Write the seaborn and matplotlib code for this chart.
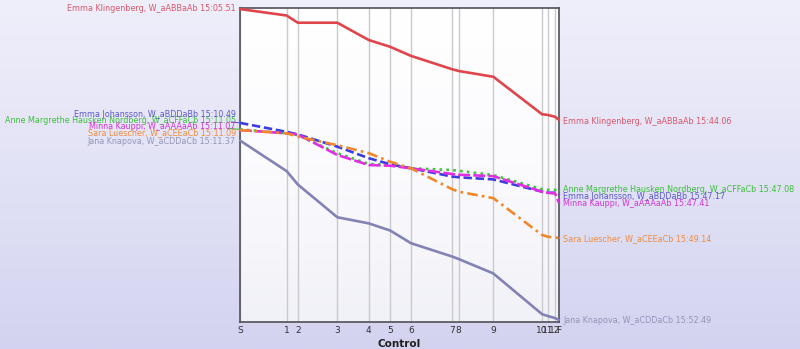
import numpy as np
import pandas as pd
import matplotlib
matplotlib.use("Agg")
import matplotlib.pyplot as plt
import seaborn as sns
from matplotlib.colors import LinearSegmentedColormap

# Course: reference elapsed time (s) at each control
controls = ["S", "1", "2", "3", "4", "5", "6", "7", "8", "9", "10", "11", "12", "F"]
control_time = [0, 294, 364, 613, 811, 947, 1077, 1336, 1378, 1596, 1903, 1938, 1985, 2010]

runners = [
    "Emma Klingenberg, W_aABBaAb",
    "Anne Margrethe Hausken Nordberg, W_aCFFaCb",
    "Emma Johansson, W_aBDDaBb",
    "Minna Kauppi, W_aAAAaAb",
    "Sara Luescher, W_aCEEaCb",
    "Jana Knapova, W_aCDDaCb",
]
start_clock = ["15:05.51", "15:11.05", "15:10.49", "15:11.07", "15:11.09", "15:11.37"]
finish_clock = ["15:44.06", "15:47.08", "15:47.17", "15:47.41", "15:49.14", "15:52.49"]

# Time behind (s) at each control
klingenberg = [2, 20, 40, 40, 88, 107, 132, 169, 174, 190, 294, 296, 301, 310]
nordberg = [336, 347, 352, 402, 432, 435, 444, 449, 451, 463, 502, 504, 504, 506]
johansson = [318, 343, 350, 384, 416, 433, 444, 467, 469, 475, 509, 512, 512, 516]
kauppi = [338, 347, 350, 407, 435, 437, 444, 460, 462, 466, 509, 512, 514, 540]
luescher = [338, 347, 356, 380, 402, 426, 444, 502, 509, 527, 629, 634, 636, 638]
knapova = [367, 452, 489, 580, 597, 617, 652, 689, 696, 736, 849, 854, 860, 865]
behind = [klingenberg, nordberg, johansson, kauppi, luescher, knapova]

line_colors = ["#e0454b", "#3cc43c", "#3c3ce0", "#e02ee0", "#f0872a", "#8282b4"]
text_colors = ["#d9566a", "#3cbf3c", "#5a5acc", "#d236d2", "#f08c3c", "#9494b8"]
dash_styles = ["", (1, 1.6), (3.2, 1.4), (4.5, 1.2), (4, 1.6, 1, 1.6), ""]

# label placement (s), spread apart so they do not overlap
left_label_y = [0, 312, 294, 329, 345, 370]
right_label_y = [313, 504, 523, 543, 640, 867]

rows = []
for name, vals in zip(runners, behind):
    for c, t, v in zip(controls, control_time, vals):
        rows.append({"runner": name, "control": c, "t": t, "behind": v})
df = pd.DataFrame(rows)

sns.set_theme(style="white")
plt.rcParams["font.family"] = ["DejaVu Sans"]

fig = plt.figure(figsize=(8, 3.49), dpi=100)

# lavender background gradient
bg = fig.add_axes([0, 0, 1, 1], zorder=-10)
grad = np.linspace(0, 1, 256).reshape(-1, 1)
bg_cmap = LinearSegmentedColormap.from_list("bg", ["#efeffb", "#e2e2f6", "#d3d3f0"])
bg.imshow(grad, aspect="auto", cmap=bg_cmap, extent=[0, 1, 0, 1], origin="upper")
bg.set_axis_off()

x_max, y_max = control_time[-1], 870
ax = fig.add_axes([0.3, 0.0782, 0.39875, 0.898])
ax.set_facecolor("white")
pa_cmap = LinearSegmentedColormap.from_list("pa", ["#ffffff", "#fbfbfe", "#f1f1f8"])
ax.imshow(grad, aspect="auto", cmap=pa_cmap, extent=[0, x_max, y_max, 0], origin="upper", zorder=0)

ax.set_xticks(control_time)
ax.set_xticklabels(controls)
ax.grid(axis="x", color="#cacace", lw=1.0, zorder=1)
ax.grid(axis="y", visible=False)

palette = dict(zip(runners, line_colors))
dashes = dict(zip(runners, dash_styles))
sns.lineplot(data=df, x="t", y="behind", hue="runner", style="runner",
             palette=palette, dashes=dashes, hue_order=runners,
             linewidth=1.9, legend=False, sort=False, estimator=None, ax=ax, zorder=3)

ax.set_xlim(0, x_max)
ax.set_ylim(y_max, 0)
ax.set_yticks([])
ax.set_ylabel("")
ax.set_xlabel("Control", fontsize=7.5, fontweight="bold", color="#202020", labelpad=3)
ax.tick_params(axis="x", length=0, pad=3, labelsize=6.5, labelcolor="#303030")
for s in ax.spines.values():
    s.set_visible(True)
    s.set_color("#505058")
    s.set_linewidth(1.2)

gap = 26  # horizontal gap between label and line end, in data seconds
for i, name in enumerate(runners):
    ax.annotate(f"{name} {start_clock[i]}", xy=(0, behind[i][0]),
                xytext=(-gap, left_label_y[i]), textcoords="data",
                ha="right", va="center", fontsize=5.75, color=text_colors[i],
                annotation_clip=False,
                arrowprops=dict(arrowstyle="-", color=text_colors[i], lw=0.8,
                                shrinkA=0, shrinkB=0))
    ax.annotate(f"{name} {finish_clock[i]}", xy=(x_max, behind[i][-1]),
                xytext=(x_max + gap, right_label_y[i]), textcoords="data",
                ha="left", va="center", fontsize=5.75, color=text_colors[i],
                annotation_clip=False,
                arrowprops=dict(arrowstyle="-", color=text_colors[i], lw=0.8,
                                shrinkA=0, shrinkB=0))

fig.savefig("out.png", dpi=100)
